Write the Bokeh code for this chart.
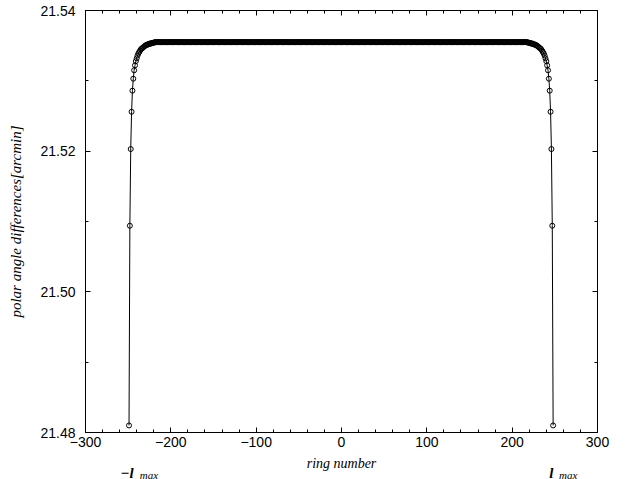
from bokeh.plotting import figure
from bokeh.layouts import column
from bokeh.models import (FixedTicker, Label, LinearAxis, Range1d, ColumnDataSource)
from bokeh.embed import file_html
from bokeh.resources import INLINE

# ---------------- data ----------------
rings = list(range(-249, 249))

left_edge = [21.4810, 21.5094, 21.5203, 21.5256, 21.5286, 21.5303, 21.5315, 21.5322,
             21.5328, 21.5332, 21.5336, 21.5339, 21.5341, 21.5343, 21.5345, 21.5346,
             21.5347, 21.5348, 21.5349, 21.5350, 21.5351, 21.5351, 21.5352, 21.5352,
             21.5353, 21.5353, 21.5353, 21.5354, 21.5354, 21.5354]
right_edge = [21.5354, 21.5354, 21.5354, 21.5353, 21.5353, 21.5353, 21.5352, 21.5352,
              21.5351, 21.5351, 21.5350, 21.5349, 21.5348, 21.5347, 21.5346, 21.5345,
              21.5343, 21.5341, 21.5339, 21.5336, 21.5332, 21.5328, 21.5322, 21.5315,
              21.5303, 21.5286, 21.5256, 21.5203, 21.5094, 21.4810]
plateau_value = 21.5355
n_plateau = len(rings) - len(left_edge) - len(right_edge)
values = left_edge + [plateau_value] * n_plateau + right_edge

x_ticks = [-300, -200, -100, 0, 100, 200, 300]
x_tick_labels = ["\u2212300", "\u2212200", "\u2212100", "0", "100", "200", "300"]
x_minor = [-280, -260, -240, -220, -180, -160, -140, -120, -80, -60, -40, -20,
           20, 40, 60, 80, 120, 140, 160, 180, 220, 240, 260, 280]
y_ticks = [21.48, 21.50, 21.52, 21.54]
y_tick_labels = ["21.48", "21.50", "21.52", "21.54"]
y_minor = [21.49, 21.51, 21.53]

x_title = "ring number"
y_title = "polar angle differences[arcmin]"

# ---------------- main figure ----------------
p = figure(width=627, height=455, output_backend="svg", toolbar_location=None,
           x_range=Range1d(-300, 300), y_range=Range1d(21.48, 21.54),
           min_border_left=85, min_border_right=30, min_border_top=10,
           min_border_bottom=23, background_fill_color="white",
           border_fill_color="white", x_axis_type=None, y_axis_type=None)
p.grid.visible = False
p.outline_line_color = "black"
p.outline_line_width = 1

TICK_FONT = "Liberation Sans"
SERIF = "Liberation Serif"


def style_axis(ax, ticks, minor, labels, show_labels):
    ax.ticker = FixedTicker(ticks=ticks, minor_ticks=minor)
    ax.axis_line_color = "black"
    ax.major_tick_line_color = "black"
    ax.minor_tick_line_color = "black"
    ax.major_tick_in = 5
    ax.major_tick_out = 0
    ax.minor_tick_in = 3
    ax.minor_tick_out = 0
    ax.major_label_text_font = TICK_FONT
    ax.major_label_text_font_size = "14px"
    ax.major_label_text_color = "black"
    if show_labels:
        ax.major_label_overrides = {t: l for t, l in zip(ticks, labels)}
    else:
        ax.major_label_overrides = {t: "" for t in ticks}


xb = LinearAxis()
style_axis(xb, x_ticks, x_minor, x_tick_labels, True)
xb.major_label_standoff = 4
p.add_layout(xb, "below")

yl = LinearAxis()
style_axis(yl, y_ticks, y_minor, y_tick_labels, True)
yl.major_label_standoff = 10
yl.axis_label = y_title
yl.axis_label_text_font = SERIF
yl.axis_label_text_font_style = "italic"
yl.axis_label_text_font_size = "15px"
yl.axis_label_text_color = "black"
yl.axis_label_standoff = 13
p.add_layout(yl, "left")

xt = LinearAxis()
style_axis(xt, x_ticks, x_minor, x_tick_labels, False)
xt.major_label_text_font_size = "0px"
p.add_layout(xt, "above")

yr = LinearAxis()
style_axis(yr, y_ticks, y_minor, y_tick_labels, False)
yr.major_label_text_font_size = "0px"
p.add_layout(yr, "right")

src = ColumnDataSource(dict(ring=rings, val=values))
p.line("ring", "val", source=src, line_color="black", line_width=1)
p.scatter("ring", "val", source=src, size=5, marker="circle",
          line_color="black", line_width=1, fill_color=None)

# ---------------- caption strip (x title and l_max marks) ----------------
s = figure(width=627, height=24, output_backend="svg", toolbar_location=None,
           x_range=p.x_range, y_range=Range1d(0, 24),
           min_border_left=85, min_border_right=30, min_border_top=0,
           min_border_bottom=0, x_axis_type=None, y_axis_type=None,
           background_fill_color="white", border_fill_color="white")
s.grid.visible = False
s.outline_line_color = None

s.add_layout(Label(x=0, y=16, text=x_title, text_font=SERIF,
                   text_font_style="italic", text_font_size="14px",
                   text_color="black", text_align="center",
                   text_baseline="middle"))
for txt, x, y, size, style in [("\u2212l", -259.0, 7, "15px", "bold italic"),
                               ("max", -236.5, 5, "11px", "italic"),
                               ("l", 243.5, 7, "15px", "bold italic"),
                               ("max", 255.0, 5, "11px", "italic")]:
    s.add_layout(Label(x=x, y=y, text=txt,
                       text_font=SERIF, text_font_style=style, text_font_size=size,
                       text_color="black", text_baseline="alphabetic"))

layout = column(p, s, spacing=0)
open("out.html", "w").write(file_html(layout, INLINE))
